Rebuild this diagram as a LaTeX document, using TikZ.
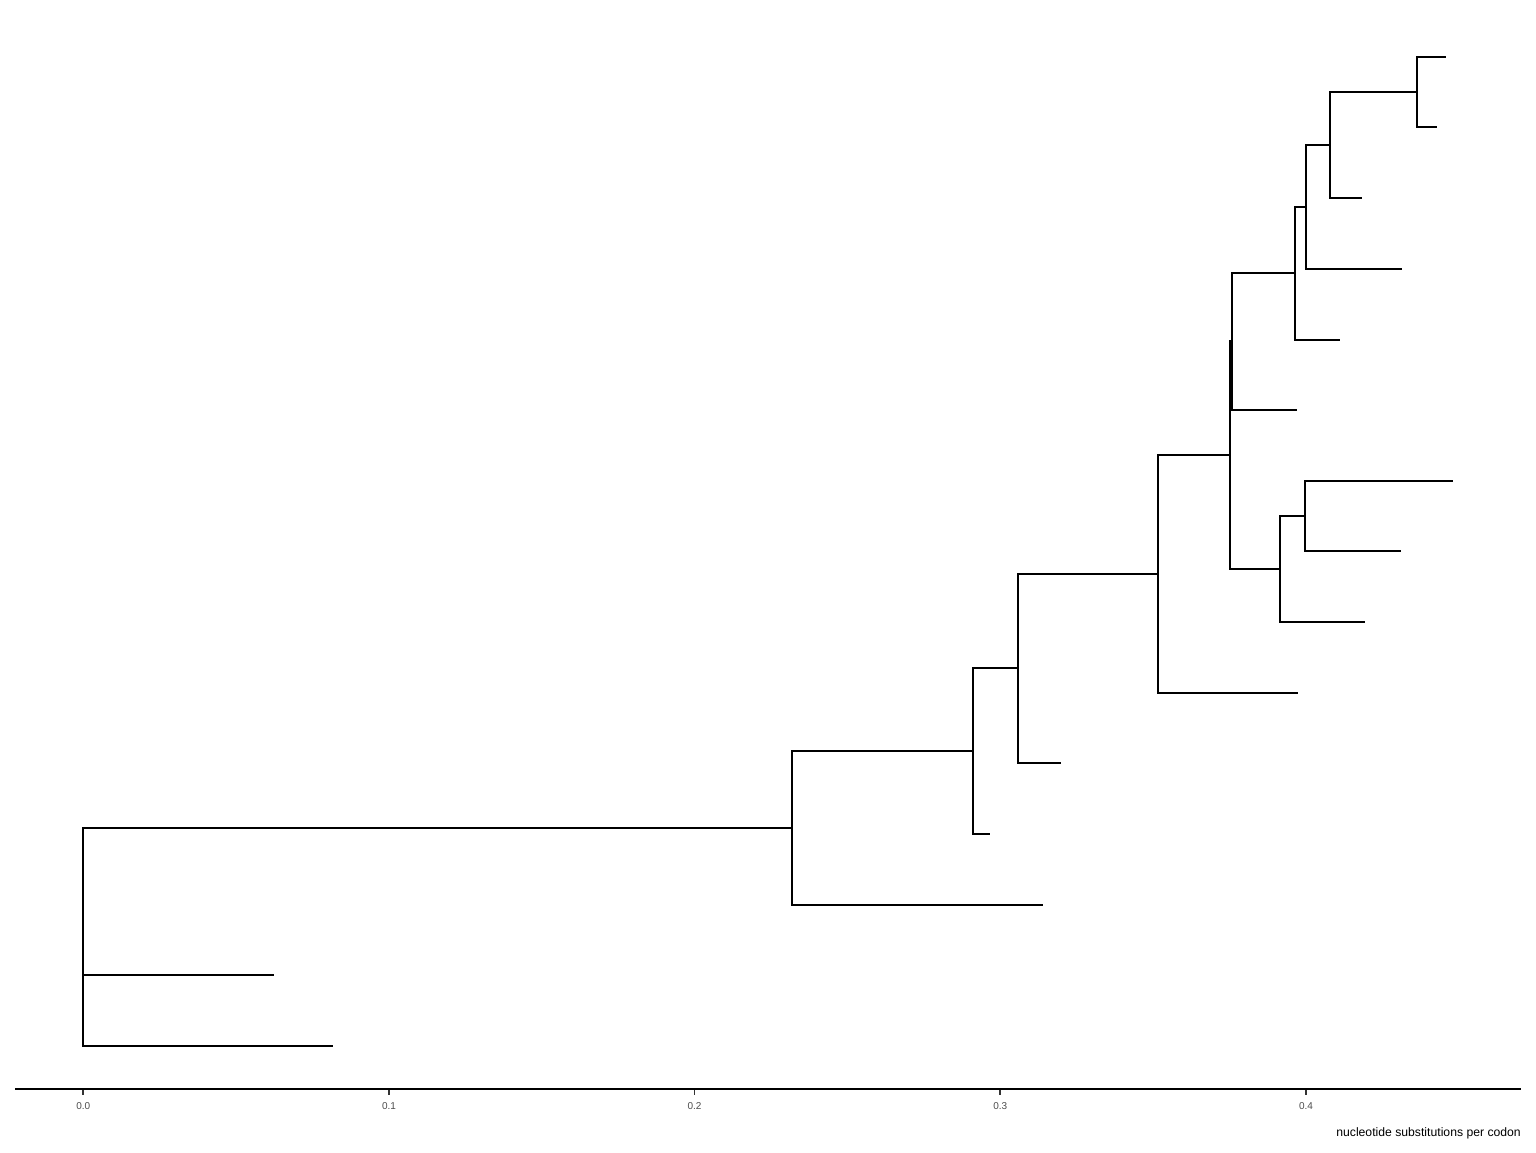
\documentclass[tikz,border=0pt]{standalone}
\usepackage{fontspec}
\setmainfont{Liberation Sans}
\usepackage{tikz}
\usetikzlibrary{positioning}

\begin{document}
\begin{tikzpicture} [
            x = 1pt, y = -1pt,
            % ----- Style definitions ----- %
            branch/.style = {
                draw,
                line width = 2.6pt,
                black
            },
            axisline/.style = {
                draw,
                line width = 2.3pt,
                black
            },
            axistick/.style = {
                draw,
                line width = 1.8pt,
                black!80
            },
            ticklabel/.style = {
                anchor = base,
                inner sep = 0pt,
                text = black!70,
                font = \fontsize{10}{12}\selectfont
            },
            axistitle/.style = {
                anchor = base east,
                inner sep = 0pt,
                text = black,
                font = \fontsize{12.2}{14}\selectfont
            },
    ]

    \useasboundingbox (0,0) rectangle (1536,1152);

            % ----- Tips ----- %
        \coordinate (t1)  at (1446,57);
        \coordinate (t2)  at (1437,127);
        \coordinate (t3)  at (1362,198);
        \coordinate (t4)  at (1402,269);
        \coordinate (t5)  at (1340,340);
        \coordinate (t6)  at (1297,410);
        \coordinate (t7)  at (1453,481);
        \coordinate (t8)  at (1401,551);
        \coordinate (t9)  at (1365,622);
        \coordinate (t10) at (1298,693);
        \coordinate (t11) at (1061,763);
        \coordinate (t12) at (990,834);
        \coordinate (t13) at (1043,905);
        \coordinate (t14) at (274,975);
        \coordinate (t15) at (333,1046);

            % ----- Inner nodes ----- %
        \coordinate (nA)   at (1417,92);
        \coordinate (nB)   at (1330,145);
        \coordinate (nC)   at (1306,207);
        \coordinate (nD)   at (1295,273);
        \coordinate (nE)   at (1232,341);
        \coordinate (nF)   at (1230,455);
        \coordinate (nG)   at (1280,569);
        \coordinate (nH)   at (1305,516);
        \coordinate (nI)   at (1158,574);
        \coordinate (nJ)   at (1018,668);
        \coordinate (nK)   at (973,751);
        \coordinate (nL)   at (792,828);
        \coordinate (root) at (83,949);

            % ----- Branches ----- %
        \foreach \p/\c in {nA/t1, nA/t2, nB/nA, nB/t3, nC/nB, nC/t4,
                           nD/nC, nD/t5, nE/nD, nE/t6, nH/t7, nH/t8,
                           nG/nH, nG/t9, nF/nE, nF/nG, nI/nF, nI/t10,
                           nJ/nI, nJ/t11, nK/nJ, nK/t12, nL/nK, nL/t13,
                           root/nL, root/t14, root/t15}
            \draw [branch] (\p) |- (\c);

            % ----- Scale axis ----- %
        \coordinate (axisL) at (15,1089);
        \coordinate (axisR) at (1521,1089);
        \draw [axisline] (axisL) -- (axisR);

        \foreach \v/\x [count=\i] in {0.0/83.3, 0.1/389, 0.2/694.5, 0.3/1000.3, 0.4/1306} {
            \coordinate (tick\i) at (\x,1090);
            \draw [axistick] (tick\i) -- ++(0,5);
            \node [ticklabel] (lab\i) at (\x,1109.3) {\v};
        }

        \node [axistitle] (title) at (1521,1136) {nucleotide substitutions per codon};

\end{tikzpicture}
\end{document}
